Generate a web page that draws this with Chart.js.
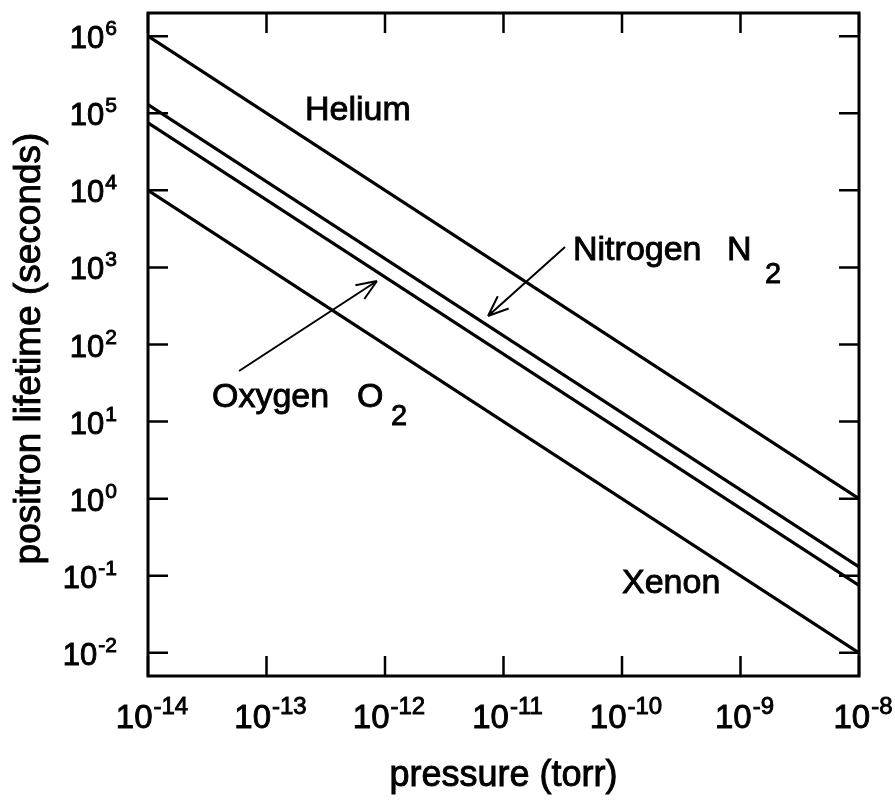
<!DOCTYPE html>
<html>
<head>
<meta charset="utf-8">
<script src="https://cdn.jsdelivr.net/npm/chart.js@4"></script>
<style>
  body { margin: 0; background: #fff; }
</style>
</head>
<body>
<canvas id="lifetimeChart" width="895" height="803"></canvas>
<script>
// pressure (torr) at the two ends of each line
const pressure = [1e-14, 1e-8];
// positron lifetime (seconds)
const helium = [1e6, 1];
const nitrogen = [1.3e5, 0.13];
const oxygen = [7.5e4, 0.075];
const xenon = [1e4, 1e-2];
// decade tick exponents
const xTickExps = [-14, -13, -12, -11, -10, -9, -8];
const yTickExps = [6, 5, 4, 3, 2, 1, 0, -1, -2];

const FONT = '"Liberation Sans", Arial, sans-serif';

function toPoints(vals) {
  return pressure.map((p, i) => ({ x: p, y: vals[i] }));
}

function lineSet(label, vals) {
  return {
    label: label,
    data: toPoints(vals),
    showLine: true,
    borderColor: "#000",
    borderWidth: 3.2,
    pointRadius: 0,
    fill: false
  };
}

// text a bit heavier, like the scanned original
function heavyText(ctx, txt, x, y) {
  ctx.fillText(txt, x, y);
  ctx.lineWidth = 0.9;
  ctx.strokeText(txt, x, y);
}

// draws "10" with a raised exponent
function drawPow(ctx, x, y, exp, align, size, supSize) {
  ctx.font = size + "px " + FONT;
  const base = "10";
  const wb = ctx.measureText(base).width;
  ctx.font = supSize + "px " + FONT;
  const sup = String(exp);
  const ws = ctx.measureText(sup).width;
  const total = wb + ws + 1;
  let start = x - total / 2;
  if (align === "right") start = x - total;
  ctx.textAlign = "left";
  ctx.textBaseline = "alphabetic";
  ctx.font = size + "px " + FONT;
  heavyText(ctx, base, start, y);
  ctx.font = supSize + "px " + FONT;
  heavyText(ctx, sup, start + wb + 1, y - Math.round(size * 0.43));
}

function arrow(ctx, x1, y1, x2, y2) {
  const ang = Math.atan2(y2 - y1, x2 - x1);
  const head = 22, spread = 0.38;
  ctx.beginPath();
  ctx.moveTo(x1, y1);
  ctx.lineTo(x2, y2);
  ctx.moveTo(x2, y2);
  ctx.lineTo(x2 - head * Math.cos(ang - spread), y2 - head * Math.sin(ang - spread));
  ctx.moveTo(x2, y2);
  ctx.lineTo(x2 - head * Math.cos(ang + spread), y2 - head * Math.sin(ang + spread));
  ctx.stroke();
}

const decor = {
  id: "decor",
  afterDraw(chart) {
    const ctx = chart.ctx;
    const a = chart.chartArea;
    const xs = chart.scales.x, ys = chart.scales.y;
    ctx.save();
    ctx.strokeStyle = "#000";
    ctx.fillStyle = "#000";

    // frame
    ctx.lineWidth = 3;
    ctx.strokeRect(a.left, a.top, a.right - a.left, a.bottom - a.top);

    // inward ticks on all four sides
    ctx.lineWidth = 2.5;
    const tl = 20;
    ctx.beginPath();
    xTickExps.forEach(e => {
      const px = xs.getPixelForValue(Math.pow(10, e));
      ctx.moveTo(px, a.bottom); ctx.lineTo(px, a.bottom - tl);
      ctx.moveTo(px, a.top); ctx.lineTo(px, a.top + tl);
    });
    yTickExps.forEach(e => {
      const py = ys.getPixelForValue(Math.pow(10, e));
      ctx.moveTo(a.left, py); ctx.lineTo(a.left + tl, py);
      ctx.moveTo(a.right, py); ctx.lineTo(a.right - tl, py);
    });
    ctx.stroke();

    // tick labels
    xTickExps.forEach(e => {
      drawPow(ctx, xs.getPixelForValue(Math.pow(10, e)) + 4, a.bottom + 52, e, "center", 33, 24);
    });
    yTickExps.forEach(e => {
      drawPow(ctx, a.left - 31, ys.getPixelForValue(Math.pow(10, e)) + 12, e, "right", 31, 21);
    });

    // axis titles
    ctx.font = "36px " + FONT;
    ctx.textAlign = "center";
    heavyText(ctx, "pressure (torr)", (a.left + a.right) / 2, 786);
    ctx.save();
    ctx.translate(40, (a.top + a.bottom) / 2 + 4);
    ctx.rotate(-Math.PI / 2);
    ctx.font = "37px " + FONT;
    heavyText(ctx, "positron lifetime (seconds)", 0, 0);
    ctx.restore();

    // line labels
    ctx.textAlign = "left";
    ctx.font = "34px " + FONT;
    heavyText(ctx, "Helium", 305, 120);
    heavyText(ctx, "Nitrogen", 573, 260);
    heavyText(ctx, "N", 727, 260);
    heavyText(ctx, "Oxygen", 212, 407);
    heavyText(ctx, "O", 357, 407);
    heavyText(ctx, "Xenon", 622, 593);
    ctx.font = "29px " + FONT;
    heavyText(ctx, "2", 765, 283);
    heavyText(ctx, "2", 391, 425);

    ctx.lineWidth = 2;
    arrow(ctx, 565, 247, 488, 316);
    arrow(ctx, 239, 371, 377, 281);
    ctx.restore();
  }
};

new Chart(document.getElementById("lifetimeChart").getContext("2d"), {
  type: "scatter",
  data: {
    datasets: [
      lineSet("Helium", helium),
      lineSet("Nitrogen N2", nitrogen),
      lineSet("Oxygen O2", oxygen),
      lineSet("Xenon", xenon)
    ]
  },
  options: {
    responsive: false,
    animation: false,
    layout: { padding: { left: 148, top: 13, right: 36, bottom: 127 } },
    plugins: {
      legend: { display: false },
      tooltip: { enabled: false }
    },
    scales: {
      x: { type: "logarithmic", min: 1e-14, max: 1e-8, display: false },
      y: { type: "logarithmic", min: 5e-3, max: 2e6, display: false }
    }
  },
  plugins: [decor]
});
</script>
</body>
</html>
